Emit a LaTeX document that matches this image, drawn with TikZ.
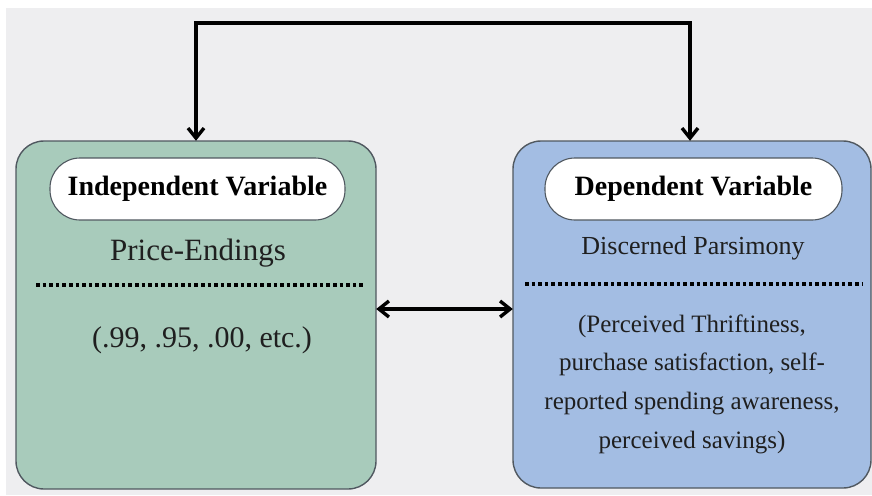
\documentclass[tikz,border=0pt]{standalone}
\usepackage{fontspec}
\setmainfont{Liberation Serif}
\usetikzlibrary{arrows.meta}
\definecolor{pagebg}{HTML}{EEEEF0}
\definecolor{greenbox}{HTML}{A8CBBB}
\definecolor{bluebox}{HTML}{A3BDE3}
\definecolor{edgegray}{HTML}{505860}
\tikzset{
  panel/.style={draw=edgegray, line width=1.4pt, rounded corners=28pt},
  pill/.style={draw=edgegray, fill=white, line width=1.1pt, rounded corners=30pt,
    minimum height=62pt, font=\fontsize{28}{32}\selectfont\bfseries},
  divider/.style={line width=3.6pt, dash pattern=on 3.6pt off 3pt},
  link/.style={line width=3.4pt, -{Straight Barb[length=10pt,width=16pt,line width=3.4pt]}},
  dlink/.style={line width=3.4pt, {Straight Barb[length=10pt,width=16pt,line width=3.4pt]}-{Straight Barb[length=10pt,width=16pt,line width=3.4pt]}},
  bodytext/.style={align=center, text=black!88},
}
\begin{document}
\begin{tikzpicture}[x=1pt,y=-1pt]
\useasboundingbox (0,0) rectangle (872,495);
\fill[white] (0,0) rectangle (872,495);
\fill[pagebg] (6,8) rectangle (872,495);

% panels
\draw[panel, fill=greenbox] (16,141) rectangle (376,489);
\draw[panel, fill=bluebox] (513,141) rectangle (871,488);
\node[inner sep=0, minimum width=360pt, minimum height=348pt] (ind) at (196,315) {};
\node[inner sep=0, minimum width=358pt, minimum height=347pt] (dep) at (692,314.5) {};

% title pills
\node[pill, minimum width=295pt] (indt) at (197.5,189) {Independent Variable};
\node[pill, minimum width=297pt] (dept) at (693.5,189) {Dependent Variable};

% upper texts
\node[bodytext, font=\fontsize{31}{36}\selectfont] (pe) at (198,253) {Price-Endings};
\node[bodytext, font=\fontsize{26}{30}\selectfont] (dp) at (693,248) {Discerned Parsimony};

% dotted dividers
\draw[divider] (36,285) -- (365,285);
\draw[divider] (525,284) -- (862,284);

% lower texts
\node[bodytext, font=\fontsize{30}{34}\selectfont] (ex) at (202,340) {(.99, .95, .00, etc.)};
\node[bodytext, font=\fontsize{25}{38.7}\selectfont] (meas) at (692,384)
  {(Perceived Thriftiness,\\purchase satisfaction, self-\\reported spending awareness,\\perceived savings)};

% connectors
\coordinate (tl) at (196,23);
\coordinate (tr) at (690,23);
\draw[line width=3.4pt, line cap=rect] (tl) -- (tr);
\draw[link] (tl) -- (ind.north -| tl);
\draw[link] (tr) -- (dep.north -| tr);
\draw[dlink] (ind.east |- 0,309) -- (dep.west |- 0,309);
\end{tikzpicture}
\end{document}
